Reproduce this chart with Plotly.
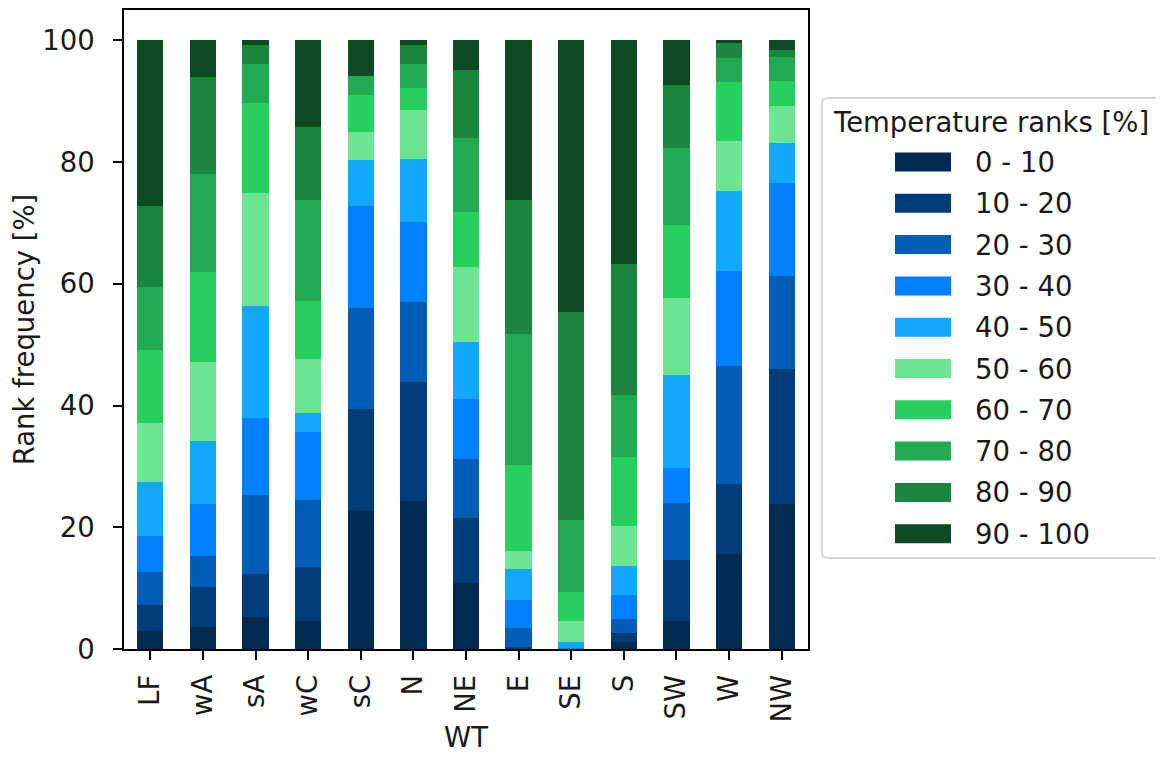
import plotly.graph_objects as go

# ---- data -------------------------------------------------------------
weather_types = ["LF", "wA", "sA", "wC", "sC", "N", "NE", "E", "SE", "S", "SW", "W", "NW"]
rank_labels = ["0 - 10", "10 - 20", "20 - 30", "30 - 40", "40 - 50",
               "50 - 60", "60 - 70", "70 - 80", "80 - 90", "90 - 100"]
rank_colors = ["#002a52", "#003c78", "#005cb4", "#0080ff", "#14a8fc",
               "#6de595", "#26cf5e", "#22a952", "#1b873e", "#0d4a23"]

# frequency [%] of each temperature rank class, per weather type (order = weather_types)
r_0_10   = [3.0, 3.6, 5.3, 4.6, 22.7, 24.4, 10.8, 0.1, 0.0, 1.2, 4.6, 15.6, 23.8]
r_10_20  = [4.2, 6.6, 7.1, 8.8, 16.7, 19.4, 10.8, 0.3, 0.0, 1.4, 10.0, 11.5, 22.2]
r_20_30  = [5.4, 5.1, 12.9, 11.1, 16.7, 13.3, 9.7, 3.0, 0.0, 2.4, 9.4, 19.4, 15.3]
r_30_40  = [6.0, 8.5, 12.7, 11.1, 16.7, 13.1, 9.8, 4.6, 0.2, 3.8, 5.8, 15.6, 15.3]
r_40_50  = [8.9, 10.4, 18.3, 3.2, 7.5, 10.3, 9.4, 5.2, 1.0, 4.9, 15.3, 13.2, 6.5]
r_50_60  = [9.7, 13.0, 18.6, 8.8, 4.6, 8.0, 12.3, 2.9, 3.4, 6.5, 12.5, 8.2, 6.2]
r_60_70  = [11.9, 14.7, 14.8, 9.6, 6.1, 3.7, 9.0, 14.1, 4.8, 11.4, 12.0, 9.6, 4.1]
r_70_80  = [10.4, 16.1, 6.5, 16.6, 3.2, 4.0, 12.2, 21.5, 11.8, 10.1, 12.7, 4.0, 3.9]
r_80_90  = [13.3, 16.0, 3.1, 12.0, 0.0, 3.0, 11.2, 22.1, 34.1, 21.6, 10.4, 2.6, 1.2]
r_90_100 = [27.2, 6.0, 0.7, 14.2, 5.8, 0.8, 4.8, 26.2, 44.7, 36.7, 7.3, 0.3, 1.5]

rank_series = [r_0_10, r_10_20, r_20_30, r_30_40, r_40_50,
               r_50_60, r_60_70, r_70_80, r_80_90, r_90_100]

y_ticks = [0, 20, 40, 60, 80, 100]

# ---- layout geometry (screen pixels; page body has an 8px margin) ----
OFF = 8
W, H = 1150, 745
L, R, T, B = 124 - OFF, 808 - OFF, 10 - OFF, 649 - OFF   # plot-area frame edges
FONT = "DejaVu Sans"
FS = 27.5
TXT = "#1a1a1a"


def px(x):
    return (x - OFF - L) / (R - L)


def py(y):
    return (B - (y - OFF)) / (B - T)


fig = go.Figure()
for label, color, vals in zip(rank_labels, rank_colors, rank_series):
    fig.add_trace(go.Bar(
        x=weather_types, y=vals, name=label,
        marker=dict(color=color, line=dict(width=0)),
        width=0.5, showlegend=False,
    ))

fig.update_layout(
    width=W, height=H,
    margin=dict(l=L, r=W - R, t=T, b=H - B, autoexpand=False),
    barmode="stack",
    plot_bgcolor="white", paper_bgcolor="white",
    font=dict(family=FONT, size=FS, color=TXT),
)
fig.update_xaxes(
    type="category", range=[-0.5, len(weather_types) - 0.5],
    showline=True, linecolor="black", linewidth=1.6, mirror=True,
    ticks="outside", ticklen=9, tickwidth=1.6, tickcolor="black",
    tickangle=-90, ticklabelstandoff=4, showgrid=False,
    title=dict(text="WT", standoff=8, font=dict(size=FS)),
    automargin=False,
)
fig.update_yaxes(
    range=[0, 105], tickvals=y_ticks,
    showline=True, linecolor="black", linewidth=1.6, mirror=True,
    ticks="outside", ticklen=9, tickwidth=1.6, tickcolor="black",
    ticklabelstandoff=13, showgrid=False, zeroline=False,
    title=dict(text="Rank frequency [%]", standoff=4, font=dict(size=FS)),
    automargin=False,
)

# ---- legend (matplotlib style, drawn in paper coordinates) -----------
def rounded_box(x0, y0, x1, y1, r=6):
    """Rounded rectangle path from screen-pixel corners (y0 top, y1 bottom)."""
    pts = dict(
        a=(px(x0 + r), py(y0)), b=(px(x1 - r), py(y0)), c=(px(x1), py(y0)),
        d=(px(x1), py(y0 + r)), e=(px(x1), py(y1 - r)), f=(px(x1), py(y1)),
        g=(px(x1 - r), py(y1)), h=(px(x0 + r), py(y1)), i=(px(x0), py(y1)),
        j=(px(x0), py(y1 - r)), k=(px(x0), py(y0 + r)), l=(px(x0), py(y0)),
    )
    f = lambda p: f"{p[0]:.5f},{p[1]:.5f}"
    return (f"M{f(pts['a'])} L{f(pts['b'])} Q{f(pts['c'])} {f(pts['d'])} "
            f"L{f(pts['e'])} Q{f(pts['f'])} {f(pts['g'])} L{f(pts['h'])} "
            f"Q{f(pts['i'])} {f(pts['j'])} L{f(pts['k'])} Q{f(pts['l'])} {f(pts['a'])} Z")


shapes = [dict(type="path", xref="paper", yref="paper",
               path=rounded_box(822, 98, 1160, 558),
               line=dict(color="#cccccc", width=1.5), fillcolor="white", layer="above")]
annotations = [dict(text="Temperature ranks [%]", xref="paper", yref="paper",
                    x=px(991), y=py(122), xanchor="center", yanchor="middle",
                    showarrow=False, font=dict(size=FS, family=FONT, color=TXT))]
row0, step = 162, 41.3
for i, (label, color) in enumerate(zip(rank_labels, rank_colors)):
    yc = row0 + i * step
    shapes.append(dict(type="rect", xref="paper", yref="paper",
                       x0=px(895), x1=px(951), y0=py(yc - 9.5), y1=py(yc + 9.5),
                       line=dict(width=0), fillcolor=color, layer="above"))
    annotations.append(dict(text=label, xref="paper", yref="paper",
                            x=px(973), y=py(yc), xanchor="left", yanchor="middle",
                            showarrow=False, font=dict(size=FS, family=FONT, color=TXT)))
fig.update_layout(shapes=shapes, annotations=annotations)

fig.write_html("out.html")
